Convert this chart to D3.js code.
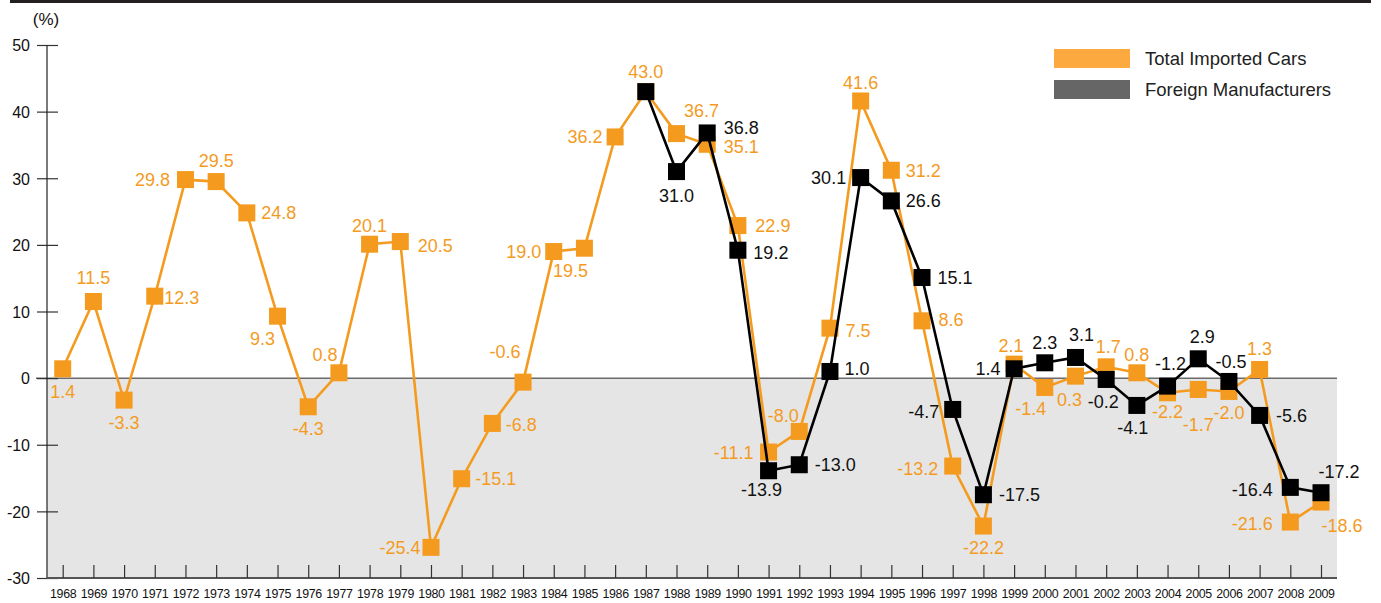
<!DOCTYPE html>
<html>
<head>
<meta charset="utf-8">
<script src="https://cdn.jsdelivr.net/npm/d3@7"></script>
<style>
  html, body { margin: 0; padding: 0; background: #fff; }
  svg { display: block; font-family: "Liberation Sans", Arial, Helvetica, sans-serif; }
</style>
</head>
<body>
<svg id="chart" width="1381" height="603"></svg>
<script>
// Year-on-year growth of imported car sales (%)
const years = d3.range(1968, 2010);

const totalImported = [
  1.4, 11.5, -3.3, 12.3, 29.8, 29.5, 24.8, 9.3, -4.3, 0.8,
  20.1, 20.5, -25.4, -15.1, -6.8, -0.6, 19.0, 19.5, 36.2, 43.0,
  36.7, 35.1, 22.9, -11.1, -8.0, 7.5, 41.6, 31.2, 8.6, -13.2,
  -22.2, 2.1, -1.4, 0.3, 1.7, 0.8, -2.2, -1.7, -2.0, 1.3,
  -21.6, -18.6
];

const foreignYears = d3.range(1987, 2010);
const foreignMakers = [
  43.0, 31.0, 36.8, 19.2, -13.9, -13.0, 1.0, 30.1, 26.6, 15.1,
  -4.7, -17.5, 1.4, 2.3, 3.1, -0.2, -4.1, -1.2, 2.9, -0.5,
  -5.6, -16.4, -17.2
];

const yTicks = [50, 40, 30, 20, 10, 0, -10, -20, -30];
const seriesNames = ["Total Imported Cars", "Foreign Manufacturers"];

// Label placement: offset of each value label's centre from its marker (px)
const totalLabelOffsets = [
  [0, 23], [0, -24], [0, 22], [27, 1], [-33, 0], [0, -21], [32, 0], [-15, 22], [0, 22], [-14, -18],
  [0, -19], [35, 4], [-31, 0], [34, 0], [29, 1], [-18, -31], [-30, 0], [-14, 22], [-30, 0], [0, -20],
  [25, -23], [34, 2], [35, 0], [-35, 0], [-16, -16], [28, 2], [0, -18], [32, 0], [29, -1], [-35, 2],
  [0, 21], [-3, -19], [-14, 21], [-6, 23], [2, -20], [0, -18], [0, 19], [0, 35], [0, 21], [0, -21],
  [-38, 1], [21, 23]
];
const foreignLabelOffsets = [
  null, [0, 24], [34, -5], [33, 2], [-7, 19], [36, 0], [27, -3], [-32, 0], [32, 0], [33, 0],
  [-29, 2], [36, 0], [-26, 0], [0, -20], [6, -23], [-3, 22], [-4, 22], [3, -23], [4, -22], [2, -20],
  [32, 0], [-38, 2], [18, -21]
];

const ORANGE = "#f49b1f";
const ORANGE_LEGEND = "#fca940";
const DARK = "#000000";
const DARK_LEGEND = "#666666";

// plain hyphen-minus, one decimal
const fmtValue = v => v.toFixed(1);
const fmtTick = v => String(v);

const svg = d3.select("#chart");

const plotLeft = 47, plotRight = 1337;
const x = d3.scaleLinear().domain([1968, 2009]).range([62.7, 1321]);
const y = d3.scaleLinear().domain([-30, 50]).range([578, 45]);

// top rule
svg.append("rect").attr("x", 10).attr("y", 0).attr("width", 1361).attr("height", 3).attr("fill", "#231f20");

// shaded negative region
svg.append("rect")
  .attr("x", plotLeft).attr("y", y(0))
  .attr("width", plotRight - plotLeft).attr("height", y(-30) - y(0))
  .attr("fill", "#e5e5e5");

// zero line
svg.append("line")
  .attr("x1", 36).attr("x2", plotRight)
  .attr("y1", y(0)).attr("y2", y(0))
  .attr("stroke", "#6b6b6b").attr("stroke-width", 1.5);

// y axis
const yAxis = d3.axisLeft(y).tickValues(yTicks).tickFormat(fmtTick).tickSize(0).tickPadding(0);
const gy = svg.append("g").attr("transform", `translate(${plotLeft},0)`).call(yAxis);
gy.attr("font-size", null).attr("font-family", null);
gy.select(".domain").remove();
gy.selectAll(".tick line").remove();
gy.selectAll(".tick").append("line")
  .attr("x1", -10).attr("x2", 11)
  .attr("stroke", "#333").attr("stroke-width", 1.2);
gy.selectAll(".tick text")
  .attr("x", -17).attr("dy", "0.36em")
  .attr("fill", "#111")
  .style("font-size", "16px");
svg.append("line")
  .attr("x1", plotLeft).attr("x2", plotLeft)
  .attr("y1", y(50)).attr("y2", y(-30))
  .attr("stroke", "#222").attr("stroke-width", 1.2);

svg.append("text")
  .attr("x", 46).attr("y", 25)
  .attr("text-anchor", "middle")
  .attr("fill", "#111")
  .style("font-size", "17px")
  .text("(%)");

// x axis: baseline, upward ticks, year labels
svg.append("line")
  .attr("x1", plotLeft).attr("x2", plotRight)
  .attr("y1", y(-30)).attr("y2", y(-30))
  .attr("stroke", "#555").attr("stroke-width", 2);

const xAxis = d3.axisBottom(x).tickValues(years).tickFormat(d3.format("d")).tickSize(0).tickPadding(0);
const gx = svg.append("g").attr("transform", `translate(0,${y(-30)})`).call(xAxis);
gx.attr("font-size", null).attr("font-family", null);
gx.select(".domain").remove();
gx.selectAll(".tick line").remove();
gx.selectAll(".tick").append("line")
  .attr("y1", -13).attr("y2", 0)
  .attr("stroke", "#333").attr("stroke-width", 1.2);
gx.selectAll(".tick text")
  .attr("y", 20)
  .attr("dy", 0)
  .attr("fill", "#111")
  .style("font-size", "12.4px")
  .style("letter-spacing", "-0.3px");

// series
const totalData = years.map((yr, i) => ({ year: yr, value: totalImported[i], off: totalLabelOffsets[i] }));
const foreignData = foreignYears.map((yr, i) => ({ year: yr, value: foreignMakers[i], off: foreignLabelOffsets[i] }));

const line = d3.line().x(d => x(d.year)).y(d => y(d.value));
const SQ = 17;

function drawSeries(data, color) {
  svg.append("path")
    .datum(data)
    .attr("d", line)
    .attr("fill", "none")
    .attr("stroke", color)
    .attr("stroke-width", 2.6)
    .attr("stroke-linejoin", "miter");
  svg.append("g").selectAll("rect")
    .data(data)
    .join("rect")
    .attr("x", d => x(d.year) - SQ / 2)
    .attr("y", d => y(d.value) - SQ / 2)
    .attr("width", SQ).attr("height", SQ)
    .attr("fill", color);
}

function drawLabels(data, color) {
  svg.append("g").selectAll("text")
    .data(data.filter(d => d.off))
    .join("text")
    .attr("x", d => x(d.year) + d.off[0])
    .attr("y", d => y(d.value) + d.off[1])
    .attr("dy", "0.36em")
    .attr("text-anchor", "middle")
    .attr("fill", color)
    .style("font-size", "18px")
    .text(d => fmtValue(d.value));
}

drawSeries(totalData, ORANGE);
drawSeries(foreignData, DARK);
drawLabels(totalData, ORANGE);
drawLabels(foreignData, "#111");

// legend
const legend = svg.append("g");
const legendColors = [ORANGE_LEGEND, DARK_LEGEND];
seriesNames.forEach((name, i) => {
  legend.append("rect")
    .attr("x", 1054).attr("y", 49 + i * 31)
    .attr("width", 76).attr("height", 19)
    .attr("fill", legendColors[i]);
  legend.append("text")
    .attr("x", 1145).attr("y", 58.5 + i * 31)
    .attr("dy", "0.36em")
    .attr("fill", "#222")
    .style("font-size", "18.5px")
    .text(name);
});
</script>
</body>
</html>
